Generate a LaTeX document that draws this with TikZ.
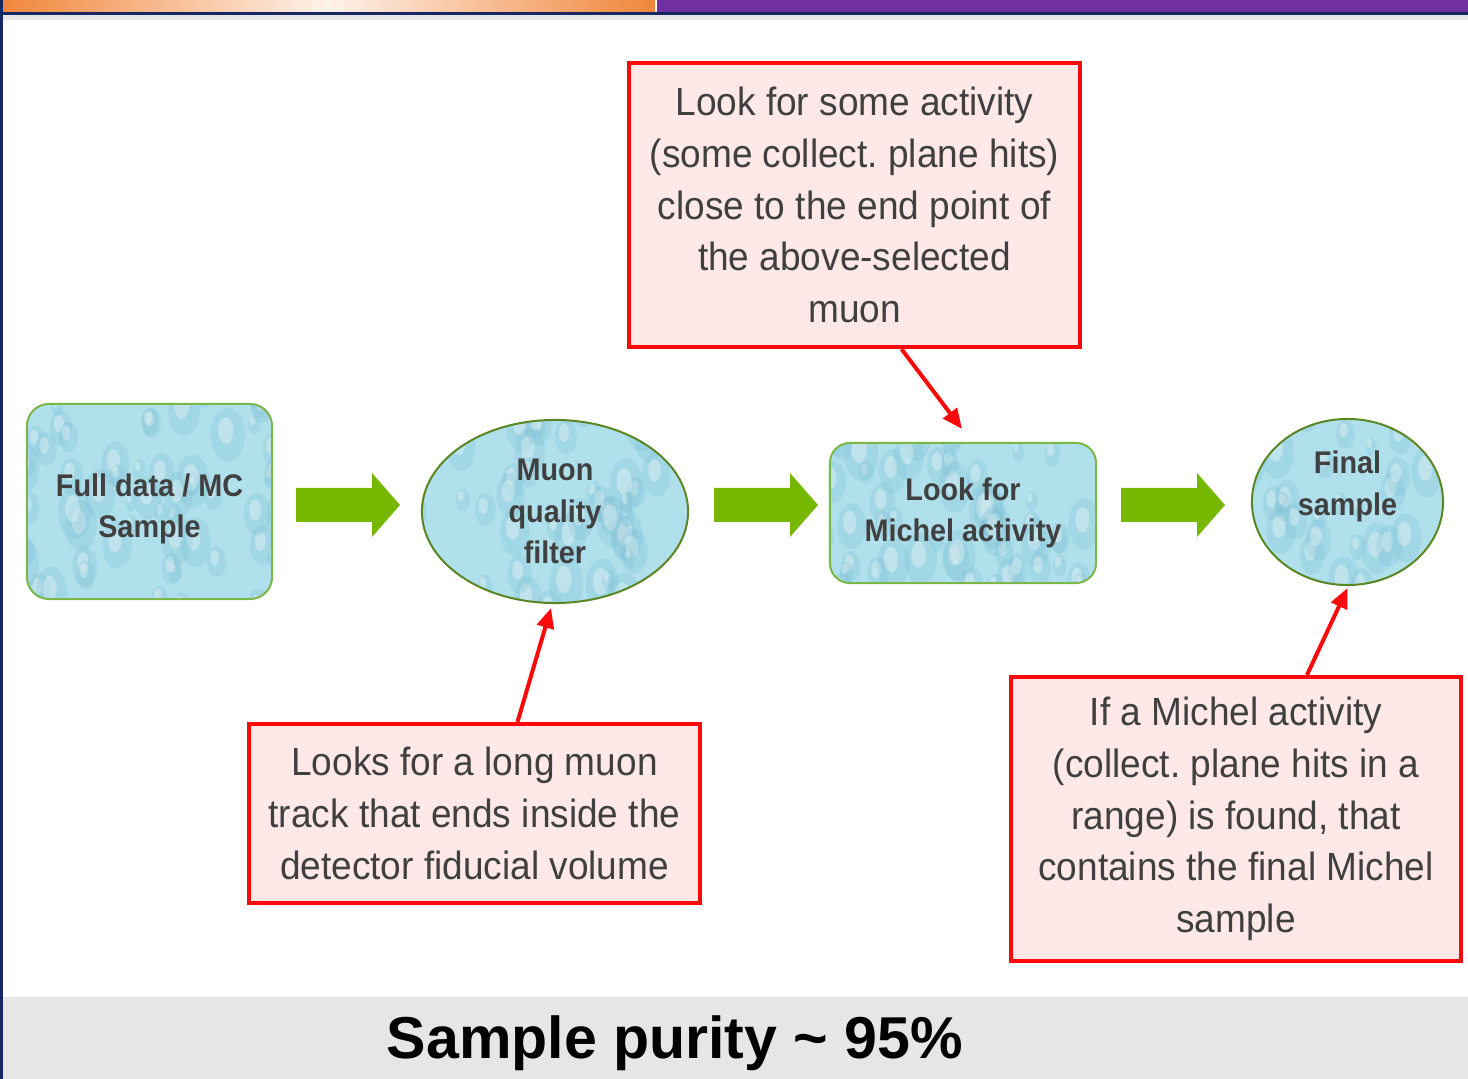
\documentclass[tikz,border=0pt]{standalone}
\usepackage{fontspec}
\setmainfont{Liberation Sans}
\newfontfamily\notefont{Liberation Sans}[FakeStretch=0.94]
\newfontfamily\bubblefont{Liberation Sans}[FakeStretch=0.92]
\usetikzlibrary{shapes.geometric,arrows.meta}
\frenchspacing
\definecolor{barorange}{RGB}{240,134,58}
\definecolor{barlight}{RGB}{254,242,234}
\definecolor{barpurple}{RGB}{112,48,160}
\definecolor{navy}{RGB}{22,40,100}
\definecolor{bandgray}{RGB}{230,230,230}
\definecolor{dropfill}{RGB}{176,224,236}
\definecolor{dropdark}{RGB}{110,180,205}
\definecolor{boxedge}{RGB}{122,182,72}
\definecolor{ovaledge}{RGB}{90,135,35}
\definecolor{arrowgreen}{RGB}{118,184,0}
\definecolor{notered}{RGB}{250,10,10}
\definecolor{notefill}{RGB}{255,232,232}
\definecolor{textgray}{RGB}{64,64,64}
\begin{document}
\begin{tikzpicture}[x=0.01cm,y=-0.01cm,
  bubble/.style={draw=boxedge, line width=0.02cm, fill=dropfill, inner sep=0pt,
    align=center, text=textgray, font=\bubblefont\fontsize{8.9}{11.8}\selectfont\bfseries,
    path picture={
      \foreach \k in {1,...,60}{
        \pgfmathsetmacro\dx{rand*150}
        \pgfmathsetmacro\dy{rand*110}
        \pgfmathsetmacro\rr{1.5+3.5*rnd}
        \fill[dropdark,opacity=0.2] ([shift={(\dx,\dy)}]path picture bounding box.center)
          ellipse [x radius=\rr pt, y radius=1.6*\rr pt];
        \fill[white,opacity=0.3] ([shift={(\dx-2,\dy-4)}]path picture bounding box.center)
          ellipse [x radius=0.45*\rr pt, y radius=0.8*\rr pt];
      }}},
  note/.style={draw=notered, line width=0.04cm, fill=notefill, inner sep=0pt,
    align=center, text=textgray, font=\notefont\fontsize{11.2}{14.7}\selectfont},
  pointer/.style={draw=notered, line width=0.04cm, -{Triangle[length=0.2cm,width=0.17cm]}}]
\pgfmathsetseed{7}
\useasboundingbox (0,0) rectangle (1468,1079);
\fill[white] (0,0) rectangle (1468,1079);
\shade[left color=barorange, right color=barorange, middle color=barlight] (0,0) rectangle (655,12);
\fill[barpurple] (657,0) rectangle (1468,12);
\fill[navy] (0,12) rectangle (1468,15);
\fill[bandgray] (3,15) rectangle (1468,20);
\fill[navy] (0,0) rectangle (3,1079);
\fill[bandgray] (3,997) rectangle (1468,1079);

\node[bubble, rounded corners=0.22cm, minimum width=2.45cm, minimum height=1.95cm] (full) at (149.5,501.5) {\strut\\[-9.5pt]Full data / MC\\Sample};
\node[bubble, ellipse, draw=ovaledge, minimum width=2.66cm, minimum height=1.83cm] (muon) at (555,511.5) {Muon\\quality\\filter};
\node[bubble, rounded corners=0.2cm, minimum width=2.66cm, minimum height=1.40cm] (michel) at (963,513) {Look for\\Michel activity};
\node[bubble, ellipse, draw=ovaledge, minimum width=1.91cm, minimum height=1.66cm] (final) at (1347.5,502) {Final\\sample\\[-4.5pt]\strut};

\foreach \x in {296,714,1121}
  \fill[arrowgreen] (\x,488) -- (\x+76,488) -- (\x+76,473) -- (\x+104,505) -- (\x+76,537) -- (\x+76,522) -- (\x,522) -- cycle;

\node[note, minimum width=4.51cm, minimum height=2.84cm] (activity) at (854.5,205)
  {Look for some activity\\(some collect. plane hits)\\close to the end point of\\the above-selected\\muon};
\node[note, minimum width=4.51cm, minimum height=1.79cm] (fiducial) at (474.5,813.5)
  {Looks for a long muon\\track that ends inside the\\detector fiducial volume};
\node[note, minimum width=4.50cm, minimum height=2.84cm] (range) at (1236,819)
  {If a Michel activity\\(collect. plane hits in a\\range) is found, that\\contains the final Michel\\sample};

\draw[pointer] ([xshift=0.47cm]activity.south) -- ([xshift=-0.01cm,yshift=0.13cm]michel.north);
\draw[pointer] ([xshift=0.43cm]fiducial.north) -- ([xshift=-0.04cm,yshift=-0.04cm]muon.south);
\draw[pointer] ([xshift=0.71cm]range.north) -- ([yshift=-0.02cm]final.south);

\node[font=\fontsize{16.8}{20}\selectfont\bfseries] (purity) at (675,1043) {Sample purity \textasciitilde{} 95\%};
\end{tikzpicture}
\end{document}
